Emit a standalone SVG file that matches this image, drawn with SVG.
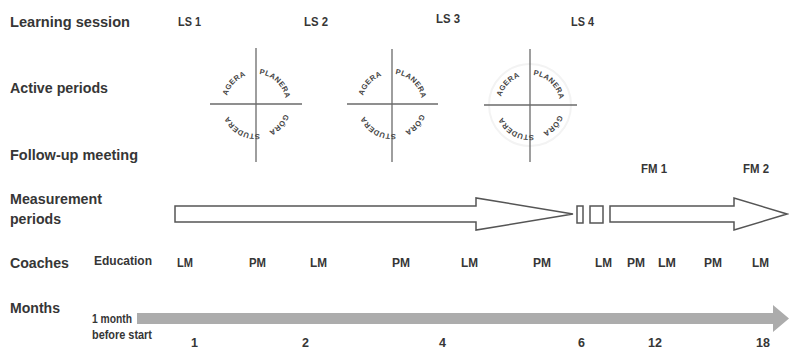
<svg xmlns="http://www.w3.org/2000/svg" xmlns:xlink="http://www.w3.org/1999/xlink" width="789" height="350" viewBox="0 0 789 350">
<style>
text{font-family:"Liberation Sans Narrow","Liberation Sans",Arial,sans-serif;font-weight:bold;fill:#363636;}
.lab{font-size:15px;}
.mk{font-size:13px;}
.num{font-size:12.5px;}
.q{font-size:7.5px;letter-spacing:0.3px;fill:#444;}
.ax{stroke:#6a6a6a;stroke-width:1.3;fill:none;}
.arr{fill:#fff;stroke:#555;stroke-width:1.5;stroke-linejoin:miter;}
</style>
<defs>
<path id="c1" d="M226,104 A30,30 0 1 1 286,104 A30,30 0 1 1 226,104"/>
<path id="c2" d="M362,104 A30,30 0 1 1 422,104 A30,30 0 1 1 362,104"/>
<path id="c3" d="M500,105 A30,30 0 1 1 560,105 A30,30 0 1 1 500,105"/>
</defs>
<rect width="789" height="350" fill="#fff"/>

<g id="row-labels">
<text class="lab" x="10" y="27" textLength="120" lengthAdjust="spacingAndGlyphs">Learning session</text>
<text class="lab" x="10" y="93" textLength="98" lengthAdjust="spacingAndGlyphs">Active periods</text>
<text class="lab" x="10" y="160" textLength="128" lengthAdjust="spacingAndGlyphs">Follow-up meeting</text>
<text class="lab" x="10" y="204" textLength="92" lengthAdjust="spacingAndGlyphs">Measurement</text>
<text class="lab" x="10" y="224" textLength="51" lengthAdjust="spacingAndGlyphs">periods</text>
<text class="lab" x="10" y="268" textLength="59" lengthAdjust="spacingAndGlyphs">Coaches</text>
<text class="lab" x="10" y="313" textLength="50" lengthAdjust="spacingAndGlyphs">Months</text>
</g>

<g id="learning-sessions">
<text class="mk" x="178" y="26" textLength="23" lengthAdjust="spacingAndGlyphs">LS 1</text>
<text class="mk" x="304" y="26" textLength="24" lengthAdjust="spacingAndGlyphs">LS 2</text>
<text class="mk" x="436" y="23" textLength="24" lengthAdjust="spacingAndGlyphs">LS 3</text>
<text class="mk" x="571" y="26" textLength="23" lengthAdjust="spacingAndGlyphs">LS 4</text>
</g>

<g id="active-period-1">
<line class="ax" x1="256" y1="48" x2="256" y2="162"/>
<line class="ax" x1="210" y1="104" x2="302" y2="104"/>
<text class="q"><textPath xlink:href="#c1" href="#c1" startOffset="22.5" text-anchor="middle">AGERA</textPath></text>
<text class="q"><textPath xlink:href="#c1" href="#c1" startOffset="69.4" text-anchor="middle">PLANERA</textPath></text>
<text class="q"><textPath xlink:href="#c1" href="#c1" startOffset="116.2" text-anchor="middle">GÖRA</textPath></text>
<text class="q"><textPath xlink:href="#c1" href="#c1" startOffset="156.6" text-anchor="middle">STUDERA</textPath></text>
</g>

<g id="active-period-2">
<line class="ax" x1="392" y1="49" x2="392" y2="162"/>
<line class="ax" x1="347" y1="104" x2="438" y2="104"/>
<text class="q"><textPath xlink:href="#c2" href="#c2" startOffset="22.5" text-anchor="middle">AGERA</textPath></text>
<text class="q"><textPath xlink:href="#c2" href="#c2" startOffset="69.4" text-anchor="middle">PLANERA</textPath></text>
<text class="q"><textPath xlink:href="#c2" href="#c2" startOffset="116.2" text-anchor="middle">GÖRA</textPath></text>
<text class="q"><textPath xlink:href="#c2" href="#c2" startOffset="156.6" text-anchor="middle">STUDERA</textPath></text>
</g>

<g id="active-period-3">
<circle cx="530" cy="105" r="41" fill="none" stroke="#f3f3f3" stroke-width="2"/>
<line class="ax" x1="530" y1="49" x2="530" y2="162"/>
<line class="ax" x1="484" y1="105" x2="577" y2="105"/>
<text class="q"><textPath xlink:href="#c3" href="#c3" startOffset="22.5" text-anchor="middle">AGERA</textPath></text>
<text class="q"><textPath xlink:href="#c3" href="#c3" startOffset="69.4" text-anchor="middle">PLANERA</textPath></text>
<text class="q"><textPath xlink:href="#c3" href="#c3" startOffset="116.2" text-anchor="middle">GÖRA</textPath></text>
<text class="q"><textPath xlink:href="#c3" href="#c3" startOffset="156.6" text-anchor="middle">STUDERA</textPath></text>
</g>

<g id="follow-up-meetings">
<text class="mk" x="641" y="173" textLength="26" lengthAdjust="spacingAndGlyphs">FM 1</text>
<text class="mk" x="743" y="173" textLength="26" lengthAdjust="spacingAndGlyphs">FM 2</text>
</g>

<g id="connectors">
<path class="arr" d="M175,206 H476 V198 L573,214 L476,230 V222 H175 Z"/>
<rect class="arr" x="577" y="206" width="6" height="17"/>
<rect class="arr" x="590" y="206" width="13" height="17"/>
<path class="arr" d="M610,206 H734 V198 L787,214 L734,230 V222 H610 Z"/>
<path d="M137,313 H773 V305 L789,318.5 L773,332 V324 H137 Z" fill="#acacac"/>
</g>

<g id="coaches">
<text class="mk" x="94" y="265" font-size="12.5" textLength="58" lengthAdjust="spacingAndGlyphs">Education</text>
<text class="mk" x="177" y="267" textLength="16" lengthAdjust="spacingAndGlyphs">LM</text>
<text class="mk" x="249" y="267" textLength="17" lengthAdjust="spacingAndGlyphs">PM</text>
<text class="mk" x="310" y="267" textLength="17" lengthAdjust="spacingAndGlyphs">LM</text>
<text class="mk" x="392" y="267" textLength="18" lengthAdjust="spacingAndGlyphs">PM</text>
<text class="mk" x="461" y="267" textLength="17" lengthAdjust="spacingAndGlyphs">LM</text>
<text class="mk" x="533" y="267" textLength="18" lengthAdjust="spacingAndGlyphs">PM</text>
<text class="mk" x="595" y="267" textLength="17" lengthAdjust="spacingAndGlyphs">LM</text>
<text class="mk" x="627" y="267" textLength="18" lengthAdjust="spacingAndGlyphs">PM</text>
<text class="mk" x="658" y="267" textLength="18" lengthAdjust="spacingAndGlyphs">LM</text>
<text class="mk" x="704" y="267" textLength="18" lengthAdjust="spacingAndGlyphs">PM</text>
<text class="mk" x="752" y="267" textLength="17" lengthAdjust="spacingAndGlyphs">LM</text>
</g>

<g id="months">
<text class="num" x="92" y="323" textLength="40" lengthAdjust="spacingAndGlyphs">1 month</text>
<text class="num" x="92" y="339" textLength="60" lengthAdjust="spacingAndGlyphs">before start</text>
<text class="num" x="191" y="347">1</text>
<text class="num" x="302" y="347">2</text>
<text class="num" x="439" y="347">4</text>
<text class="num" x="578" y="347">6</text>
<text class="num" x="648" y="347">12</text>
<text class="num" x="756" y="347">18</text>
</g>
</svg>
